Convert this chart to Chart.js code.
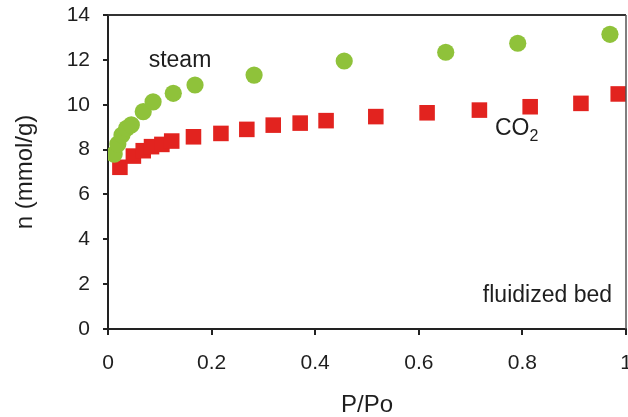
<!DOCTYPE html>
<html>
<head>
<meta charset="utf-8">
<script src="https://cdn.jsdelivr.net/npm/chart.js@4/dist/chart.umd.min.js"></script>
<style>
    html, body { margin: 0; padding: 0; background: #fff; }
    #wrap { width: 628px; height: 417px; }
</style>
</head>
<body>
<div id="wrap"><canvas id="isoChart" width="628" height="417"></canvas></div>
<script>
// steam activated sample (green circles)
const steamX = [0.012, 0.019, 0.027, 0.036, 0.045, 0.068, 0.087, 0.126, 0.168, 0.282, 0.456, 0.652, 0.791, 0.969];
const steamY = [7.8, 8.25, 8.65, 8.95, 9.1, 9.69, 10.13, 10.51, 10.88, 11.32, 11.95, 12.34, 12.74, 13.14];

// CO2 activated sample (red squares)
const co2X = [0.023, 0.049, 0.068, 0.084, 0.104, 0.123, 0.165, 0.218, 0.268, 0.319, 0.371, 0.421, 0.517, 0.616, 0.717, 0.815, 0.913, 0.985];
const co2Y = [7.21, 7.71, 7.95, 8.13, 8.23, 8.38, 8.57, 8.72, 8.90, 9.09, 9.18, 9.29, 9.47, 9.64, 9.76, 9.91, 10.06, 10.48];

const xTicks = [0, 0.2, 0.4, 0.6, 0.8, 1];
const yTicks = [0, 2, 4, 6, 8, 10, 12, 14];

// text labels placed in data coordinates
const noteText = ['steam', 'CO', 'fluidized bed'];
const noteX = [0.139, 0.747, 0.973];
const noteY = [11.7, 8.66, 1.22];

const ink = '#1e1e1e';
const fontFamily = '"Liberation Sans", Arial, sans-serif';

const toPoints = (xs, ys) => xs.map((x, i) => ({x: x, y: ys[i]}));

// top and right edges of the box
const framePlugin = {
    id: 'frame',
    afterDraw(chart) {
        const {ctx, chartArea: a} = chart;
        ctx.save();
        ctx.strokeStyle = '#333';
        ctx.lineWidth = 2;
        ctx.beginPath();
        ctx.moveTo(a.left, a.top);
        ctx.lineTo(a.right, a.top);
        ctx.stroke();
        ctx.strokeStyle = '#555';
        ctx.lineWidth = 1.5;
        ctx.beginPath();
        ctx.moveTo(a.right, a.top);
        ctx.lineTo(a.right, a.bottom);
        ctx.stroke();
        ctx.restore();
    }
};

const notesPlugin = {
    id: 'notes',
    afterDatasetsDraw(chart) {
        const {ctx, scales} = chart;
        ctx.save();
        ctx.fillStyle = ink;
        ctx.font = '23px ' + fontFamily;
        ctx.textBaseline = 'alphabetic';

        // steam
        ctx.textAlign = 'center';
        ctx.fillText(noteText[0], scales.x.getPixelForValue(noteX[0]), scales.y.getPixelForValue(noteY[0]));

        // CO2 with subscript
        ctx.textAlign = 'left';
        const cx = scales.x.getPixelForValue(noteX[1]);
        const cy = scales.y.getPixelForValue(noteY[1]);
        ctx.fillText(noteText[1], cx, cy);
        const w = ctx.measureText(noteText[1]).width;
        ctx.font = '16px ' + fontFamily;
        ctx.fillText('2', cx + w, cy + 6);

        // fluidized bed
        ctx.font = '23px ' + fontFamily;
        ctx.textAlign = 'right';
        ctx.fillText(noteText[2], scales.x.getPixelForValue(noteX[2]), scales.y.getPixelForValue(noteY[2]));
        ctx.restore();
    }
};

document.addEventListener('DOMContentLoaded', () => {
    const ctx = document.getElementById('isoChart').getContext('2d');
    new Chart(ctx, {
        type: 'scatter',
        data: {
            datasets: [
                {
                    label: 'steam',
                    data: toPoints(steamX, steamY),
                    pointStyle: 'circle',
                    pointRadius: 8.6,
                    backgroundColor: '#8fc23a',
                    borderColor: '#8fc23a',
                    borderWidth: 0
                },
                {
                    label: 'CO2',
                    data: toPoints(co2X, co2Y),
                    pointStyle: 'rect',
                    pointRadius: 11,
                    backgroundColor: '#e2231f',
                    borderColor: '#e2231f',
                    borderWidth: 0
                }
            ]
        },
        options: {
            responsive: false,
            animation: false,
            layout: {autoPadding: false, padding: {top: 15, right: 2, left: 0, bottom: 0}},
            plugins: {legend: {display: false}, tooltip: {enabled: false}},
            scales: {
                x: {
                    type: 'linear',
                    min: 0,
                    max: 1,
                    afterBuildTicks: scale => { scale.ticks = xTicks.map(v => ({value: v})); },
                    afterFit: scale => {
                        scale.height = 88;
                        scale.paddingLeft = 0;
                        scale.paddingRight = 0;
                    },
                    border: {display: true, color: '#222', width: 2},
                    grid: {drawOnChartArea: false, drawTicks: true, tickLength: 6, color: '#222', lineWidth: 2},
                    ticks: {
                        color: ink,
                        padding: 16,
                        maxRotation: 0,
                        font: {family: fontFamily, size: 21},
                        callback: v => String(v)
                    },
                    title: {
                        display: true,
                        text: 'P/Po',
                        color: ink,
                        padding: {top: 0, bottom: 0},
                        font: {family: fontFamily, size: 24, lineHeight: 1}
                    }
                },
                y: {
                    type: 'linear',
                    min: 0,
                    max: 14,
                    afterBuildTicks: scale => { scale.ticks = yTicks.map(v => ({value: v})); },
                    afterFit: scale => {
                        scale.width = 108;
                        scale.paddingTop = 0;
                        scale.paddingBottom = 0;
                    },
                    border: {display: true, color: '#222', width: 2},
                    grid: {drawOnChartArea: false, drawTicks: true, tickLength: 5, color: '#222', lineWidth: 2},
                    ticks: {
                        color: ink,
                        padding: 13,
                        font: {family: fontFamily, size: 21}
                    },
                    title: {
                        display: true,
                        text: 'n (mmol/g)',
                        color: ink,
                        padding: {top: 13, bottom: 0},
                        font: {family: fontFamily, size: 24, lineHeight: 1}
                    }
                }
            }
        },
        plugins: [framePlugin, notesPlugin]
    });
});
</script>
</body>
</html>
